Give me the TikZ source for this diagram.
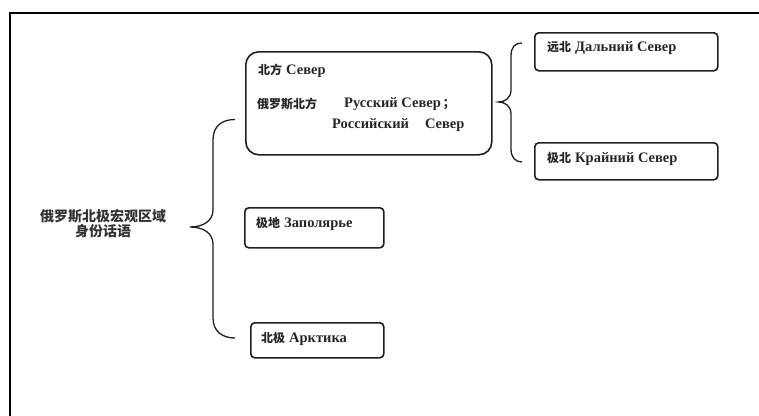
\documentclass[tikz,border=0pt]{standalone}
\usepackage{fontspec}
\setmainfont{Liberation Serif}
\newfontfamily\cjk{Noto Sans CJK SC}
\newcommand\zh[1]{{\cjk\bfseries\fontsize{12}{13}\selectfont #1}}
\newcommand\zhbig[1]{{\cjk\bfseries\fontsize{14}{18}\selectfont #1}}
\newcommand\ru[1]{{\fontsize{14.5}{16}\selectfont\bfseries #1}}
\begin{document}
\begin{tikzpicture}[x=1pt,y=-1pt,
  box/.style={draw=black!88, line width=1.6pt, rounded corners=4pt, anchor=north west,
    inner xsep=0pt, inner ysep=0pt, align=left},
  bracepath/.style={draw=black!88, line width=1.3pt},
  lbl/.style={anchor=west, inner sep=0pt, text=black!85}]
\useasboundingbox (0,0) rectangle (759,415);
\begin{scope}
\clip (0,0) rectangle (759,415);
\draw[line width=1.8pt] (10,430) -- (10,13) -- (780,13);
\end{scope}

% left label
\node[align=center, inner sep=0pt, text=black!80] (root) at (103,224) {\zhbig{俄罗斯北极宏观区域}\\[0pt]\zhbig{身份话语}};

% big box
\node[box, rounded corners=13pt, minimum width=246pt, minimum height=103pt] (north) at (245,51) {};
\node[lbl] (t1) at (258,71) {\zh{北方}\hspace{4pt}\ru{Север}};
\node[lbl] (t2) at (257,103.5) {\zh{俄罗斯北方}};
\node[lbl] (t3) at (344,104.5) {\ru{Русский Север}\hspace{2pt}\zh{；}};
\node[lbl] (t4) at (332,125) {\ru{Российский\hspace{16pt}Север}};

% right boxes
\node[box, minimum width=183pt, minimum height=38pt] (far) at (534,32) {};
\node[lbl] (tfar) at (547,48.5) {\zh{远北}\hspace{4pt}\ru{Дальний Север}};
\node[box, minimum width=183pt, minimum height=37pt] (extreme) at (534,142) {};
\node[lbl] (text) at (547,158.5) {\zh{极北}\hspace{4pt}\ru{Крайний Север}};

% lower boxes
\node[box, minimum width=139pt, minimum height=40pt] (polar) at (244,207) {};
\node[lbl] (tpolar) at (256,223.5) {\zh{极地}\hspace{4pt}\ru{Заполярье}};
\node[box, minimum width=133pt, minimum height=35pt] (arctic) at (250,322) {};
\node[lbl] (tarctic) at (261,339) {\zh{北极}\hspace{4pt}\ru{Арктика}};

% left brace
\coordinate (lbtop) at (235,119.5);
\coordinate (lbtip) at (190,227);
\coordinate (lbbot) at (235,338);
\draw[bracepath] (lbtop) .. controls (222,119.5) and (213,126) .. (213,140)
  -- (213,210) .. controls (213,221) and (203,227) .. (lbtip)
  .. controls (203,227) and (213,233) .. (213,244)
  -- (213,318) .. controls (213,331) and (222,338) .. (lbbot);

% right brace
\coordinate (rbtop) at (522,43);
\coordinate (rbtip) at (498.5,102);
\coordinate (rbbot) at (522,162);
\draw[bracepath] (rbtop) .. controls (515,43) and (511,47) .. (511,56)
  -- (511,90) .. controls (511,98) and (505,102) .. (rbtip)
  .. controls (505,102) and (511,106) .. (511,114)
  -- (511,149) .. controls (511,157) and (515,162) .. (rbbot);
\end{tikzpicture}
\end{document}
